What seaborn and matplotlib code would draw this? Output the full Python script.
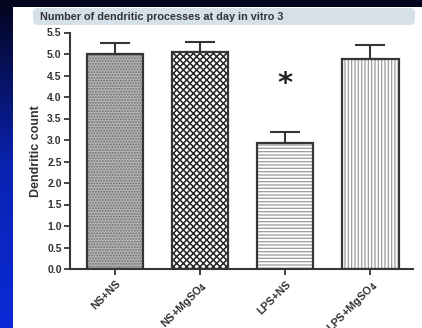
import numpy as np
import pandas as pd
import seaborn as sns
import matplotlib.pyplot as plt
from matplotlib.patches import Rectangle, FancyBboxPatch

# values
groups = ['NS+NS', 'NS+MgSO4', 'LPS+NS', 'LPS+MgSO4']
tick_labels = ['NS+NS', r'NS+MgSO$_\mathbf{4}$', 'LPS+NS', r'LPS+MgSO$_\mathbf{4}$']
mean_count = [5.0, 5.05, 2.94, 4.89]
sem_count = [0.25, 0.24, 0.25, 0.31]
significant = [False, False, True, False]
y_ticks = np.arange(0, 5.51, 0.5)

hatches = ['......', 'xxxxx', '-----', '|||||']
hatch_widths = [0.9, 1.1, 0.9, 0.9]
faces = ['#b4b4b4', 'white', 'white', 'white']
hatch_cols = ['#6e6e6e', '#262626', '#9a9a9a', '#9a9a9a']

sns.set_style('ticks')
plt.rcParams['font.family'] = ['Liberation Sans', 'DejaVu Sans']
plt.rcParams['hatch.linewidth'] = 0.9

df = pd.DataFrame({'group': groups, 'count': mean_count})
ink = '#363636'

fig = plt.figure(figsize=(4.22, 3.28), dpi=100)
fig.patch.set_facecolor('#03041c')

# left blue strip with gradient
gax = fig.add_axes([0, 0, 13 / 422, 1])
grad = np.linspace(0, 1, 256).reshape(-1, 1)
gax.imshow(grad, aspect='auto', cmap=sns.blend_palette(['#0a2ad8', '#0a22b0', '#03041c'], as_cmap=True),
           origin='lower')
gax.set_axis_off()

# white panel + header band
fig.patches.append(Rectangle((13 / 422, 0), 1 - 13 / 422, 1 - 7 / 328, transform=fig.transFigure,
                             facecolor='white', edgecolor='none', zorder=-1))
fig.patches.append(FancyBboxPatch((33 / 422, (328 - 25) / 328), (415 - 33) / 422, 17 / 328,
                                  boxstyle='round,pad=0,rounding_size=0.012', mutation_aspect=422 / 328,
                                  transform=fig.transFigure, facecolor='#d6e0e9', edgecolor='none', zorder=-0.5))
fig.text(40 / 422, (328 - 16.5) / 328, 'Number of dendritic processes at day in vitro 3',
         fontsize=7.8, fontweight='bold', color='#333333', va='center', ha='left')

ax = fig.add_axes([70 / 422, 59 / 328, 343 / 422, (269 - 32.5) / 328])
ax.set_facecolor('none')

sns.barplot(data=df, x='group', y='count', order=groups, width=0.66, color='white',
            linewidth=0, errorbar=None, ax=ax)
for p, h, hw, fc, hc in zip(ax.patches, hatches, hatch_widths, faces, hatch_cols):
    p.set_facecolor(fc)
    p.set_edgecolor(hc)
    p.set_hatch(h)
    p.set_linewidth(0)
    if hasattr(p, 'set_hatch_linewidth'):
        p.set_hatch_linewidth(hw)

sns.barplot(data=df, x='group', y='count', order=groups, width=0.66, fill=False, color=ink,
            linewidth=1.6, errorbar=None, ax=ax)

xpos = np.arange(len(groups))
ax.errorbar(xpos, mean_count, yerr=[np.zeros(len(groups)), sem_count], fmt='none',
            ecolor=ink, elinewidth=1.5, capsize=10.8, capthick=1.5, zorder=1)

for x, m, s, sig in zip(xpos, mean_count, sem_count, significant):
    if sig:
        ax.text(x, 4.3, '*', fontsize=21, fontweight='bold', color='#222222',
                ha='center', va='center', family='DejaVu Sans')

ax.set_xlim(-0.53, 3.5)
ax.set_ylim(0, 5.5)
ax.set_yticks(y_ticks)
ax.set_yticklabels([f'{v:.1f}' for v in y_ticks])
ax.set_xticks(xpos)
ax.set_xticklabels(tick_labels, rotation=45, ha='right', va='top', rotation_mode='anchor')
ax.set_xlabel('')
ax.set_ylabel('Dendritic count', fontsize=9, fontweight='bold', color='#333333', labelpad=4)

sns.despine(ax=ax)
for side in ['left', 'bottom']:
    ax.spines[side].set_color(ink)
    ax.spines[side].set_linewidth(1.5)
ax.tick_params(axis='y', length=4, width=1.3, color=ink, labelcolor='#333333',
               labelsize=7.5, pad=2)
ax.tick_params(axis='x', length=4, width=1.3, color=ink, labelcolor='#333333',
               labelsize=7.8, pad=3)
for t in ax.get_xticklabels() + ax.get_yticklabels():
    t.set_fontweight('bold')

fig.savefig('out.png', dpi=100, facecolor=fig.get_facecolor())
